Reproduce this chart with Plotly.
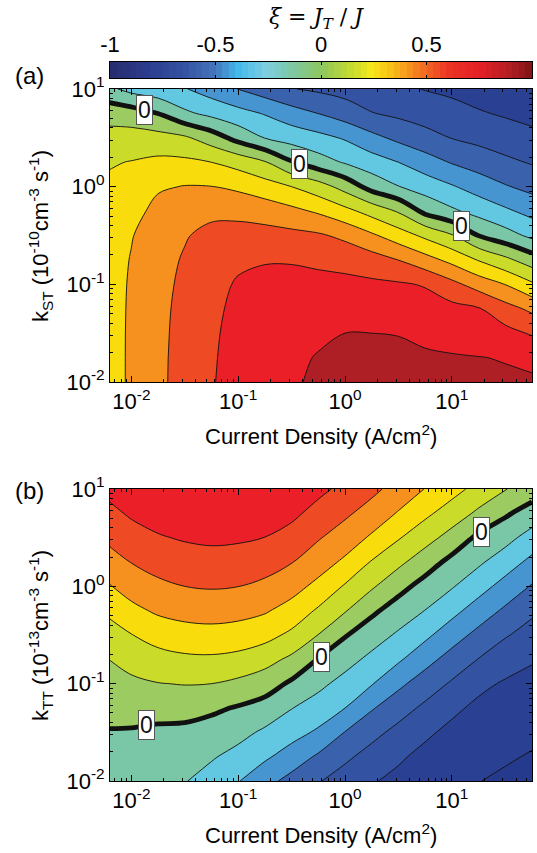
import plotly.graph_objects as go

# ---------------- data ----------------
# grid exponents: log10(current density, A/cm^2) and log10(k)
current_exp = [-2.25, -2.0, -1.75, -1.5, -1.25, -1.0, -0.75, -0.5, -0.25,
               0.0, 0.25, 0.5, 0.75, 1.0, 1.25, 1.5, 1.75]
k_exp = [-2.0, -1.75, -1.5, -1.25, -1.0, -0.75, -0.5, -0.25, 0.0, 0.25, 0.5, 0.75, 1.0]

# panel (a): xi vs k_ST, rows from k = 1e-2 (bottom) to 1e1 (top)
xi_st = [
    [0.256, 0.313, 0.379, 0.437, 0.495, 0.527, 0.559, 0.591, 0.612, 0.630, 0.635, 0.635, 0.627, 0.620, 0.615, 0.612, 0.610],
    [0.256, 0.313, 0.378, 0.436, 0.493, 0.524, 0.554, 0.583, 0.605, 0.620, 0.622, 0.620, 0.610, 0.606, 0.602, 0.596, 0.583],
    [0.255, 0.313, 0.376, 0.433, 0.490, 0.521, 0.548, 0.572, 0.585, 0.600, 0.600, 0.597, 0.584, 0.571, 0.555, 0.531, 0.490],
    [0.254, 0.312, 0.374, 0.428, 0.485, 0.516, 0.540, 0.555, 0.554, 0.562, 0.559, 0.554, 0.541, 0.528, 0.508, 0.437, 0.379],
    [0.252, 0.310, 0.370, 0.420, 0.475, 0.508, 0.525, 0.530, 0.524, 0.524, 0.518, 0.511, 0.493, 0.428, 0.358, 0.298, 0.216],
    [0.248, 0.305, 0.362, 0.410, 0.455, 0.486, 0.494, 0.493, 0.484, 0.469, 0.443, 0.399, 0.338, 0.272, 0.194, 0.124, 0.048],
    [0.242, 0.295, 0.350, 0.392, 0.430, 0.436, 0.435, 0.427, 0.413, 0.378, 0.316, 0.249, 0.179, 0.109, -0.002, -0.060, -0.122],
    [0.232, 0.264, 0.330, 0.348, 0.375, 0.374, 0.356, 0.325, 0.286, 0.229, 0.162, 0.090, -0.026, -0.083, -0.134, -0.183, -0.232],
    [0.215, 0.234, 0.288, 0.304, 0.302, 0.281, 0.244, 0.200, 0.144, 0.063, -0.037, -0.097, -0.143, -0.191, -0.243, -0.292, -0.329],
    [0.189, 0.204, 0.222, 0.220, 0.200, 0.163, 0.108, 0.008, -0.057, -0.109, -0.154, -0.200, -0.256, -0.307, -0.346, -0.380, -0.408],
    [0.134, 0.140, 0.136, 0.115, 0.050, -0.034, -0.103, -0.140, -0.171, -0.210, -0.272, -0.324, -0.366, -0.403, -0.426, -0.450, -0.474],
    [0.064, 0.047, -0.001, -0.081, -0.126, -0.166, -0.207, -0.258, -0.301, -0.348, -0.396, -0.420, -0.443, -0.466, -0.491, -0.511, -0.530],
    [-0.070, -0.130, -0.159, -0.194, -0.246, -0.302, -0.351, -0.396, -0.416, -0.436, -0.459, -0.482, -0.504, -0.520, -0.542, -0.560, -0.579],
]

# panel (b): xi vs k_TT, rows from k = 1e-2 (bottom) to 1e1 (top)
xi_tt = [
    [-0.060, -0.060, -0.075, -0.095, -0.140, -0.195, -0.267, -0.333, -0.393, -0.444, -0.493, -0.521, -0.546, -0.577, -0.598, -0.615, -0.630],
    [-0.035, -0.035, -0.050, -0.057, -0.090, -0.132, -0.184, -0.244, -0.315, -0.381, -0.436, -0.488, -0.523, -0.549, -0.572, -0.590, -0.607],
    [-0.005, -0.008, -0.020, -0.021, -0.040, -0.069, -0.117, -0.164, -0.215, -0.303, -0.371, -0.428, -0.485, -0.521, -0.545, -0.563, -0.580],
    [0.028, 0.036, 0.038, 0.032, 0.017, -0.008, -0.038, -0.097, -0.143, -0.200, -0.291, -0.359, -0.420, -0.482, -0.519, -0.537, -0.552],
    [0.061, 0.080, 0.097, 0.104, 0.100, 0.078, 0.045, -0.016, -0.076, -0.133, -0.194, -0.278, -0.348, -0.412, -0.479, -0.510, -0.524],
    [0.094, 0.135, 0.165, 0.181, 0.184, 0.171, 0.136, 0.079, -0.004, -0.064, -0.124, -0.186, -0.265, -0.338, -0.403, -0.459, -0.493],
    [0.149, 0.197, 0.238, 0.260, 0.266, 0.257, 0.233, 0.179, 0.098, 0.007, -0.055, -0.114, -0.178, -0.256, -0.328, -0.391, -0.440],
    [0.211, 0.274, 0.315, 0.334, 0.341, 0.332, 0.310, 0.263, 0.186, 0.107, 0.019, -0.045, -0.102, -0.170, -0.246, -0.317, -0.381],
    [0.284, 0.341, 0.379, 0.400, 0.408, 0.401, 0.379, 0.336, 0.274, 0.190, 0.113, 0.032, -0.035, -0.092, -0.161, -0.236, -0.308],
    [0.350, 0.403, 0.437, 0.456, 0.464, 0.458, 0.440, 0.404, 0.345, 0.282, 0.193, 0.123, 0.046, -0.027, -0.084, -0.151, -0.226],
    [0.412, 0.460, 0.492, 0.509, 0.518, 0.513, 0.499, 0.465, 0.408, 0.353, 0.286, 0.208, 0.138, 0.063, -0.019, -0.067, -0.140],
    [0.468, 0.513, 0.538, 0.548, 0.553, 0.551, 0.544, 0.521, 0.468, 0.417, 0.360, 0.292, 0.221, 0.154, 0.081, 0.014, -0.044],
    [0.518, 0.545, 0.560, 0.571, 0.575, 0.570, 0.567, 0.554, 0.523, 0.476, 0.424, 0.363, 0.297, 0.235, 0.168, 0.104, 0.050],
]

# where the "0" labels sit along the zero contour (log10 current density)
zero_label_exp_a = [-1.88, -0.43, 1.09]
zero_label_exp_b = [-1.86, -0.22, 1.28]

tick_exp = [-2, -1, 0, 1]
tick_text = ["10<sup>-2</sup>", "10<sup>-1</sup>", "10<sup>0</sup>", "10<sup>1</sup>"]
cbar_ticks = [-1, -0.5, 0, 0.5, 1]
cbar_ticktext = ["-1", "-0.5", "0", "0.5", "1"]

# contour levels
lvl_start, lvl_end, lvl_size = -0.6, 0.6, 0.1

# ---------------- styles ----------------
band_colors = ["#253A8D", "#2A4193", "#3352A2", "#3A62AC", "#4694D0", "#62C8E2", "#79C7A7",
               "#9CCB62", "#CBDB2A", "#F9DC0B", "#F6901E", "#EE4A23", "#EA1F27", "#AE1E25"]
cb_gradient = [[0.0, "#262B6E"], [0.09, "#2C3D8E"], [0.175, "#3451A1"], [0.25, "#4576BC"],
               [0.3, "#3FB9EA"], [0.37, "#7DCFE0"], [0.42, "#7CC8B0"], [0.5, "#8DC65F"],
               [0.575, "#C8DC2C"], [0.62, "#F7E81A"], [0.66, "#F8C514"], [0.71, "#F6921F"],
               [0.75, "#F26522"], [0.8, "#EC3524"], [0.88, "#E21F26"], [0.945, "#B31E24"],
               [1.0, "#7E1315"]]
n_bands = len(band_colors) - 1
band_scale = [[i / n_bands, c] for i, c in enumerate(band_colors)]

FONT = "Liberation Sans, Arial, Helvetica, sans-serif"
W, H = 537, 853
X0, X1 = 110, 532
PANELS = {"a": (89, 382), "b": (489, 781)}
CB = (62, 78)


def px_dom(top, bottom):
    return [1 - bottom / H, 1 - top / H]


current = [10 ** e for e in current_exp]
kvals = [10 ** e for e in k_exp]

fig = go.Figure()


def zero_crossing(z, lx0):
    i = 0
    for i in range(len(current_exp) - 1):
        if current_exp[i] <= lx0 <= current_exp[i + 1]:
            break
    t = (lx0 - current_exp[i]) / (current_exp[i + 1] - current_exp[i])
    col = [row[i] * (1 - t) + row[i + 1] * t for row in z]
    for j in range(len(k_exp) - 1):
        a, b = col[j], col[j + 1]
        if a * b <= 0 and a != b:
            return k_exp[j] + (0 - a) / (b - a) * (k_exp[j + 1] - k_exp[j])
    return k_exp[-1]


def add_panel(z, xa, ya, label_exps):
    fig.add_trace(go.Contour(
        x=current, y=kvals, z=z, xaxis=xa, yaxis=ya, autocontour=False,
        contours=dict(start=lvl_start, end=lvl_end, size=lvl_size, coloring="fill"),
        colorscale=band_scale, showscale=False,
        line=dict(color="#111111", width=0.9, smoothing=1.0), hoverinfo="skip"))
    fig.add_trace(go.Contour(
        x=current, y=kvals, z=z, xaxis=xa, yaxis=ya, autocontour=False,
        contours=dict(start=0, end=0, size=lvl_size, coloring="none"),
        showscale=False, line=dict(color="#111111", width=4.8, smoothing=1.0),
        hoverinfo="skip"))
    for lx in label_exps:
        ly = zero_crossing(z, lx)
        fig.add_annotation(x=lx, y=ly, xref=xa, yref=ya, text="0", showarrow=False,
                           xanchor="center", yanchor="middle",
                           font=dict(family=FONT, size=23, color="#111111"),
                           bgcolor="white", bordercolor="#555555", borderwidth=1, borderpad=1)


add_panel(xi_st, "x", "y", zero_label_exp_a)
add_panel(xi_tt, "x2", "y2", zero_label_exp_b)

# colour bar strip drawn as a heatmap
cb_n = 64
cb_x = [-1 + (i + 0.5) * 2 / cb_n for i in range(cb_n)]
fig.add_trace(go.Heatmap(x=cb_x, y=[0], z=[cb_x], zmin=-1, zmax=1, colorscale=cb_gradient,
                         showscale=False, xaxis="x3", yaxis="y3", hoverinfo="skip"))

minor_vals = [m * 10 ** d for d in range(-3, 2) for m in range(2, 10)]

axis_common = dict(type="log", showline=True, linecolor="black", linewidth=1, mirror="ticks",
                   ticks="inside", ticklen=6, tickcolor="black", showgrid=False, zeroline=False,
                   automargin=False,
                   tickfont=dict(family=FONT, size=22, color="black"),
                   minor=dict(ticks="inside", ticklen=3, tickcolor="black", tickvals=minor_vals,
                              showgrid=False))

xdom = [X0 / W, X1 / W]
xt = dict(tickvals=[10 ** e for e in tick_exp], ticktext=tick_text)

fig.update_layout(
    width=W, height=H, margin=dict(l=0, r=0, t=0, b=0, autoexpand=False),
    paper_bgcolor="white", plot_bgcolor="white", showlegend=False,
    xaxis=dict(axis_common, domain=xdom, anchor="y", range=[-2.2, 1.75], **xt),
    yaxis=dict(axis_common, domain=px_dom(*PANELS["a"]), anchor="x", range=[-2, 1], **xt),
    xaxis2=dict(axis_common, domain=xdom, anchor="y2", range=[-2.2, 1.75], **xt),
    yaxis2=dict(axis_common, domain=px_dom(*PANELS["b"]), anchor="x2", range=[-2, 1], **xt),
    xaxis3=dict(domain=xdom, anchor="y3", range=[-1, 1], side="top", showline=True,
                linecolor="black", linewidth=1, mirror="ticks", ticks="inside", ticklen=3,
                tickcolor="black", tickvals=cbar_ticks, ticktext=cbar_ticktext, showgrid=False,
                zeroline=False, automargin=False,
                tickfont=dict(family=FONT, size=22, color="black")),
    yaxis3=dict(domain=px_dom(*CB), anchor="x3", range=[-0.5, 0.5], showline=True,
                linecolor="black", linewidth=1, mirror=True, ticks="", showticklabels=False,
                showgrid=False, zeroline=False, automargin=False),
)


def paper_text(px, py, text, font, angle=0):
    fig.add_annotation(x=px / W, y=1 - py / H, xref="paper", yref="paper", showarrow=False,
                       xanchor="center", yanchor="middle", textangle=angle, text=text, font=font)


title_font = dict(family=FONT, size=22, color="black")
xtitle = "Current Density (A/cm<sup>2</sup>)"
paper_text(321, 435, xtitle, title_font)
paper_text(321, 834, xtitle, title_font)
paper_text(40, 236, "k<sub>ST</sub> (10<sup>-10</sup>cm<sup>-3</sup> s<sup>-1</sup>)", title_font, -90)
paper_text(40, 636, "k<sub>TT</sub> (10<sup>-13</sup>cm<sup>-3</sup> s<sup>-1</sup>)", title_font, -90)
paper_text(316, 18, "<i>ξ</i> = <i>J</i><sub><i>T</i></sub> / <i>J</i>",
           dict(family="DejaVu Serif, Liberation Serif, serif", size=22, color="black"))
paper_text(29, 75, "(a)", dict(family=FONT, size=24, color="black"))
paper_text(29, 490, "(b)", dict(family=FONT, size=24, color="black"))

fig.write_html("out.html", config={"displayModeBar": False},
               post_script="document.body.style.margin='0px';document.body.style.overflow='hidden';")
